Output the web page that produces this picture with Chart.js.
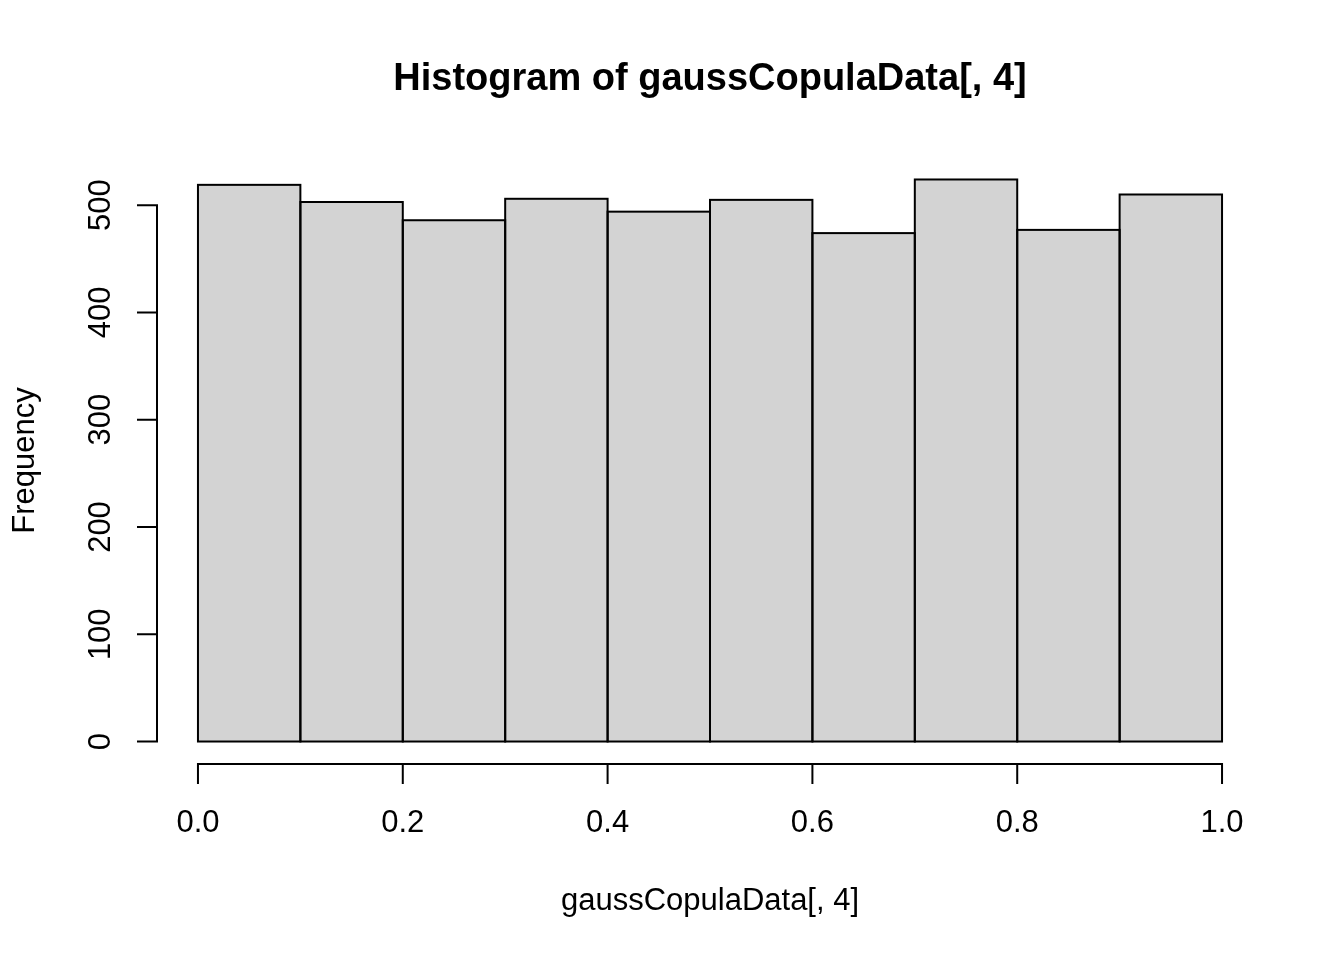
<!DOCTYPE html>
<html>
<head>
<meta charset="utf-8">
<script src="https://cdn.jsdelivr.net/npm/chart.js@4/dist/chart.umd.min.js"></script>
<style>
  html, body { margin: 0; padding: 0; background: #fff; }
  canvas { display: block; }
</style>
</head>
<body>
<canvas id="hist" width="1344" height="960"></canvas>
<script>
// bin edges (left side of each bin) and counts
const binStarts = [0.0, 0.1, 0.2, 0.3, 0.4, 0.5, 0.6, 0.7, 0.8, 0.9];
const binWidth = 0.1;
const counts = [519, 503, 486, 506, 494, 505, 474, 524, 477, 510];
const xTicks = [0, 0.2, 0.4, 0.6, 0.8, 1.0];
const xTickLabels = ['0.0', '0.2', '0.4', '0.6', '0.8', '1.0'];
const yTicks = [0, 100, 200, 300, 400, 500];
const yTickLabels = ['0', '100', '200', '300', '400', '500'];

const mainTitle = 'Histogram of gaussCopulaData[, 4]';
const xTitle = 'gaussCopulaData[, 4]';
const yTitle = 'Frequency';

const FONT = '"Liberation Sans", Arial, sans-serif';
const yMax = Math.max(...counts);

// R style axes, outlines and labels
const rAxes = {
    id: 'rAxes',
    afterDatasetsDraw(chart) {
        const ctx = chart.ctx;
        const xs = chart.scales.x;
        const ys = chart.scales.y;
        const area = chart.chartArea;
        ctx.save();
        ctx.strokeStyle = '#000';
        ctx.fillStyle = '#000';
        ctx.lineWidth = 2;
        ctx.lineCap = 'butt';

        // bar outlines
        const meta = chart.getDatasetMeta(0);
        meta.data.forEach(bar => {
            const p = bar.getProps(['x', 'y', 'base', 'width'], true);
            ctx.strokeRect(p.x - p.width / 2, p.y, p.width, p.base - p.y);
        });

        // x axis
        const axY = Math.round(area.bottom);
        const x0 = xs.getPixelForValue(xTicks[0]);
        const x1 = xs.getPixelForValue(xTicks[xTicks.length - 1]);
        ctx.beginPath();
        ctx.moveTo(x0 - 1, axY);
        ctx.lineTo(x1 + 1, axY);
        xTicks.forEach(t => {
            const px = xs.getPixelForValue(t);
            ctx.moveTo(px, axY);
            ctx.lineTo(px, axY + 20);
        });
        ctx.stroke();

        ctx.font = '31px ' + FONT;
        ctx.textAlign = 'center';
        ctx.textBaseline = 'middle';
        xTicks.forEach((t, i) => {
            ctx.fillText(xTickLabels[i], xs.getPixelForValue(t), 823);
        });

        // y axis
        const axX = Math.round(area.left);
        const y0 = ys.getPixelForValue(yTicks[0]);
        const y1 = ys.getPixelForValue(yTicks[yTicks.length - 1]);
        ctx.beginPath();
        ctx.moveTo(axX, y0 + 1);
        ctx.lineTo(axX, y1 - 1);
        yTicks.forEach(t => {
            const py = ys.getPixelForValue(t);
            ctx.moveTo(axX, py);
            ctx.lineTo(axX - 20, py);
        });
        ctx.stroke();

        yTicks.forEach((t, i) => {
            ctx.save();
            ctx.translate(101, ys.getPixelForValue(t));
            ctx.rotate(-Math.PI / 2);
            ctx.fillText(yTickLabels[i], 0, 0);
            ctx.restore();
        });

        // titles
        ctx.fillText(xTitle, (area.left + area.right) / 2, 901);
        ctx.save();
        ctx.translate(25, (area.top + area.bottom) / 2);
        ctx.rotate(-Math.PI / 2);
        ctx.fillText(yTitle, 0, 0);
        ctx.restore();

        ctx.font = 'bold 38px ' + FONT;
        ctx.fillText(mainTitle, (area.left + area.right) / 2, 80);
        ctx.restore();
    }
};

new Chart(document.getElementById('hist').getContext('2d'), {
    type: 'bar',
    data: {
        datasets: [{
            data: binStarts.map((b, i) => ({ x: b + binWidth / 2, y: counts[i] })),
            backgroundColor: '#d3d3d3',
            borderWidth: 0,
            barPercentage: 1,
            categoryPercentage: 1
        }]
    },
    options: {
        responsive: false,
        animation: false,
        devicePixelRatio: 1,
        layout: { padding: { left: 157, right: 81, top: 157, bottom: 196 } },
        plugins: { legend: { display: false }, tooltip: { enabled: false } },
        scales: {
            x: { type: 'linear', min: -0.04, max: 1.04, offset: false, display: false },
            y: { type: 'linear', min: -0.04 * yMax, max: 1.04 * yMax, display: false }
        }
    },
    plugins: [rAxes]
});
</script>
</body>
</html>
